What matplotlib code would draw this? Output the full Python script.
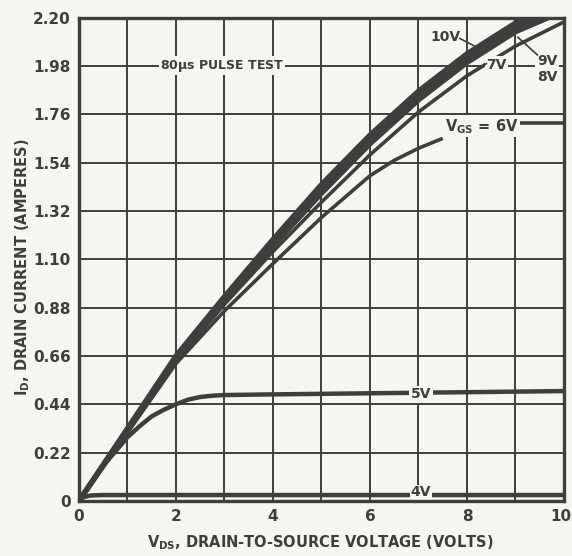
import matplotlib
matplotlib.use("Agg")
import matplotlib.pyplot as plt
import matplotlib.transforms as mtransforms
import numpy as np

# drain characteristics, V_DS (volts) vs I_D (amperes)
vds_main = [0, 1, 2, 3, 4, 5, 6, 7, 8, 9, 10]
id_10v = [0, 0.33, 0.66, 0.93, 1.19, 1.44, 1.665, 1.865, 2.035, 2.175, 2.27]
id_9v = [0, 0.325, 0.65, 0.92, 1.175, 1.42, 1.645, 1.845, 2.015, 2.155, 2.25]
id_8v = [0, 0.32, 0.645, 0.91, 1.16, 1.40, 1.625, 1.825, 1.995, 2.135, 2.23]
id_7v = [0, 0.315, 0.635, 0.895, 1.135, 1.36, 1.575, 1.77, 1.935, 2.07, 2.18]

vds_6v = [0, 1, 2, 3, 4, 5, 6, 6.5, 7, 7.5, np.nan, 9.05, 10]
id_6v = [0, 0.31, 0.625, 0.865, 1.08, 1.29, 1.48, 1.55, 1.605, 1.65, np.nan, 1.72, 1.72]

vds_5v = [0, 0.5, 1, 1.25, 1.5, 1.75, 2, 2.25, 2.5, 2.75, 3, 4, 6, 8, 10]
id_5v = [0, 0.16, 0.29, 0.34, 0.385, 0.415, 0.44, 0.461, 0.473, 0.479, 0.482,
         0.485, 0.49, 0.495, 0.50]

vds_4v = [0, 0.1, 0.25, 0.5, 10]
id_4v = [0, 0.018, 0.025, 0.027, 0.027]

x_ticks = [0, 2, 4, 6, 8, 10]
y_ticks = [0, 0.22, 0.44, 0.66, 0.88, 1.10, 1.32, 1.54, 1.76, 1.98, 2.20]
y_labels = ["0", "0.22", "0.44", "0.66", "0.88", "1.10", "1.32", "1.54", "1.76", "1.98", "2.20"]

paper = "#f5f5f2"
ink = "#3e3e3e"
font = ["Liberation Sans Narrow", "DejaVu Sans"]

plt.rcParams["font.family"] = font
plt.rcParams["font.weight"] = "bold"
plt.rcParams["mathtext.fontset"] = "custom"
plt.rcParams["mathtext.rm"] = "Liberation Sans Narrow:bold"
plt.rcParams["mathtext.it"] = "Liberation Sans Narrow:bold"

fig = plt.figure(figsize=(5.72, 5.56), dpi=100, facecolor=paper)
ax = fig.add_axes([0.138, 0.099, 0.848, 0.8695], facecolor=paper)

ax.set_xlim(0, 10)
ax.set_ylim(0, 2.2)
ax.set_xticks(x_ticks)
ax.set_xticks(np.arange(1, 10, 2), minor=True)
ax.set_yticks(y_ticks)
ax.set_yticklabels(y_labels)
ax.tick_params(which="both", length=0, labelsize=11, colors=ink, pad=6)
ax.grid(which="both", color=ink, linewidth=1.4, zorder=1)
ax.set_axisbelow(True)
for sp in ax.spines.values():
    sp.set_linewidth(2.4)
    sp.set_color(ink)
    sp.set_zorder(6)

# keep the "10" at the right edge inside the figure
last = ax.get_xticklabels()[-1]
last.set_ha("right")
last.set_transform(last.get_transform() +
                   mtransforms.ScaledTranslation(7 / 100, 0, fig.dpi_scale_trans))

lw = 3.2
ax.plot(vds_main, id_10v, color=ink, lw=3.8, zorder=3, solid_capstyle="butt")
ax.plot(vds_main, id_9v, color=ink, lw=3.8, zorder=3, solid_capstyle="butt")
ax.plot(vds_main, id_8v, color=ink, lw=3.8, zorder=3, solid_capstyle="butt")
ax.plot(vds_main, id_7v, color=ink, lw=2.6, zorder=3, solid_capstyle="butt")
ax.plot(vds_6v, id_6v, color=ink, lw=2.6, zorder=3, solid_capstyle="butt")
ax.plot(vds_5v, id_5v, color=ink, lw=lw, zorder=3, solid_capstyle="butt")
ax.plot(vds_4v, id_4v, color=ink, lw=lw, zorder=3, solid_capstyle="butt")

box = dict(facecolor=paper, edgecolor="none", pad=1.0)
ax.text(2.95, 1.98, r"80$\mu$s PULSE TEST", fontsize=9, color=ink,
        ha="center", va="center", bbox=box, zorder=4)
ax.text(7.05, 0.485, "5V", fontsize=10, color=ink, ha="center", va="center",
        bbox=box, zorder=4)
ax.text(7.05, 0.04, "4V", fontsize=10, color=ink, ha="center", va="center",
        bbox=dict(facecolor=paper, edgecolor="none", pad=0.3), zorder=4)
ax.text(8.3, 1.705, r"V$_\mathregular{GS}$ = 6V", fontsize=10.5, color=ink,
        ha="center", va="center", bbox=box, zorder=4)
ax.text(7.55, 2.11, "10V", fontsize=10, color=ink, ha="center", va="center",
        bbox=box, zorder=4)
ax.plot([7.85, 8.2], [2.105, 2.065], color=ink, lw=1.2, zorder=4)
ax.text(8.6, 1.985, "7V", fontsize=10, color=ink, ha="center", va="center",
        bbox=box, zorder=4)
ax.plot([8.4, 8.15], [1.99, 1.955], color=ink, lw=1.2, zorder=4)
ax.text(9.65, 2.0, "9V", fontsize=10, color=ink, ha="center", va="center",
        bbox=box, zorder=4)
ax.text(9.65, 1.93, "8V", fontsize=10, color=ink, ha="center", va="center",
        zorder=4)
ax.plot([9.45, 9.05], [2.03, 2.11], color=ink, lw=1.2, zorder=4)

fig.text(0.04, 0.52, r"I$_\mathregular{D}$, DRAIN CURRENT (AMPERES)", rotation=90,
         fontsize=10.5, color=ink, ha="center", va="center")
fig.text(0.56, 0.024, r"V$_\mathregular{DS}$, DRAIN-TO-SOURCE VOLTAGE (VOLTS)",
         fontsize=10.5, color=ink, ha="center", va="center")

fig.savefig("out.png", dpi=100, facecolor=paper)
